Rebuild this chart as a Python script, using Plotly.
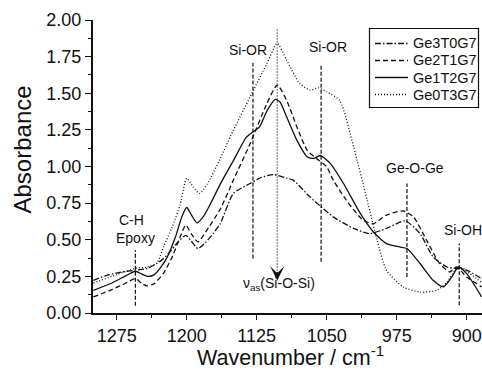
import plotly.graph_objects as go

# ---------------- data ----------------
wn_ge3 = [1300, 1285, 1270, 1255, 1243, 1232, 1225, 1218, 1210, 1201, 1195, 1188, 1180, 1172, 1164,
          1150, 1132, 1120, 1107, 1093, 1086, 1068, 1057, 1043, 1021, 1004, 986, 966, 950, 936,
          921, 911, 900, 884]
ab_ge3 = [0.223, 0.258, 0.280, 0.292, 0.303, 0.338, 0.370, 0.417, 0.480, 0.530, 0.490, 0.440, 0.480, 0.540, 0.610,
          0.816, 0.884, 0.925, 0.945, 0.920, 0.907, 0.793, 0.730, 0.656, 0.577, 0.542, 0.577, 0.629, 0.542, 0.383,
          0.314, 0.303, 0.292, 0.235]

wn_ge2 = [1300, 1280, 1265, 1255, 1248, 1242, 1235, 1225, 1215, 1207, 1201, 1195, 1188, 1180, 1164,
          1150, 1132, 1114, 1103, 1093, 1082, 1071, 1061, 1050, 1043, 1029, 1011, 1000, 986, 968,
          957, 943, 929, 918, 911, 900, 884]
ab_ge2 = [0.110, 0.160, 0.205, 0.235, 0.200, 0.185, 0.200, 0.270, 0.390, 0.520, 0.600, 0.540, 0.485, 0.550, 0.710,
          0.907, 1.157, 1.431, 1.556, 1.453, 1.271, 1.112, 1.055, 0.998, 0.907, 0.770, 0.633, 0.610, 0.668, 0.697,
          0.656, 0.497, 0.338, 0.280, 0.314, 0.246, 0.178]

wn_ge1 = [1300, 1280, 1265, 1255, 1248, 1242, 1235, 1228, 1221, 1212, 1205, 1200, 1195, 1189, 1182,
          1175, 1164, 1150, 1136, 1129, 1122, 1114, 1105, 1100, 1093, 1082, 1071, 1064, 1057, 1046,
          1032, 1014, 1000, 986, 972, 964, 950, 936, 925, 916, 909, 900, 884]
ab_ge1 = [0.155, 0.205, 0.255, 0.285, 0.265, 0.250, 0.260, 0.310, 0.380, 0.520, 0.660, 0.720, 0.670, 0.615, 0.660,
          0.740, 0.880, 1.040, 1.200, 1.237, 1.270, 1.380, 1.458, 1.440, 1.340, 1.180, 1.066, 1.055, 1.075, 1.020,
          0.884, 0.680, 0.553, 0.474, 0.451, 0.440, 0.338, 0.223, 0.178, 0.246, 0.314, 0.269, 0.110]

wn_ge0 = [1300, 1275, 1255, 1243, 1232, 1225, 1216, 1207, 1200, 1193, 1186, 1178, 1164, 1150,
          1132, 1114, 1103, 1093, 1079, 1068, 1059, 1050, 1036, 1021, 1007, 996, 986, 968, 950,
          932, 921, 911, 905, 900, 884]
ab_ge0 = [0.205, 0.262, 0.305, 0.312, 0.340, 0.450, 0.580, 0.740, 0.920, 0.860, 0.816, 0.880, 1.055, 1.248,
          1.476, 1.704, 1.841, 1.727, 1.567, 1.522, 1.537, 1.510, 1.450, 1.130, 0.780, 0.497, 0.292, 0.178, 0.143,
          0.155, 0.212, 0.303, 0.310, 0.285, 0.210]

series_names = ["Ge3T0G7", "Ge2T1G7", "Ge1T2G7", "Ge0T3G7"]

# band markers (dashed vertical lines) : position, bottom, top
band_wn = [1255, 1129, 1056, 964, 908]
band_lo = [0.05, 0.372, 0.349, 0.246, 0.053]
band_hi = [0.43, 1.708, 1.693, 0.884, 0.474]

# asymmetric stretch marker (dotted arrow)
nu_wn = 1103
nu_lo = 0.27
nu_hi = 1.94

labels = [
    ("C-H", 1258.9, 0.633),
    ("Epoxy", 1255.4, 0.51),
    ("Si-OR", 1133.8, 1.795),
    ("Si-OR", 1049.1, 1.818),
    ("Ge-O-Ge", 955.4, 0.987),
    ("Si-OH", 904.0, 0.565),
    ("ν<sub>as</sub>(Si-O-Si)", 1101.0, 0.20),
]

x_ticks = [1275, 1200, 1125, 1050, 975, 900]

# ---------------- figure ----------------
FONT = "'Liberation Sans', Arial, sans-serif"
INK = "#111111"
W, H = 482, 371
ML, MR, MT, MB = 93, 0, 20, 58
PW, PH = W - ML - MR, H - MT - MB


def px_x(px):
    return (px - ML) / PW


def px_y(py):
    return (H - MB - py) / PH


fig = go.Figure()
styles = ["6px,2px,1.5px,2px", "5px,3px", "solid", "1px,2px"]
data = [(wn_ge3, ab_ge3), (wn_ge2, ab_ge2), (wn_ge1, ab_ge1), (wn_ge0, ab_ge0)]
for name, (xs, ys), dsh in zip(series_names, data, styles):
    fig.add_trace(go.Scatter(x=xs, y=ys, mode="lines", name=name, showlegend=False,
                             line=dict(color=INK, width=1.3, dash=dsh, shape="spline", smoothing=0.6)))

for w, lo, hi in zip(band_wn, band_lo, band_hi):
    fig.add_shape(type="line", xref="x", yref="y", x0=w, x1=w, y0=lo, y1=hi,
                  line=dict(color=INK, width=1.2, dash="4px,2px"))

fig.add_shape(type="line", xref="x", yref="y", x0=nu_wn, x1=nu_wn, y0=nu_lo, y1=nu_hi,
              line=dict(color=INK, width=1.2, dash="1px,2px"))
fig.add_annotation(x=nu_wn, y=0.222, xref="x", yref="y", ax=0, ay=-10, showarrow=True,
                   arrowhead=3, arrowsize=2.0, arrowwidth=1.2, arrowcolor=INK, text="")

for txt, x, y in labels:
    fig.add_annotation(x=x, y=y, xref="x", yref="y", text=txt, showarrow=False,
                       xanchor="center", yanchor="middle",
                       font=dict(family=FONT, size=14, color=INK))

# legend box (drawn in paper space)
fig.add_shape(type="rect", xref="paper", yref="paper",
              x0=px_x(369.5), x1=px_x(478.5), y0=px_y(107.5), y1=px_y(28.5),
              line=dict(color=INK, width=1.2), fillcolor="white", layer="above")
row_y = [43.5, 60.5, 77.5, 94.5]
for name, dsh, ry in zip(series_names, styles, row_y):
    fig.add_shape(type="line", xref="paper", yref="paper",
                  x0=px_x(375), x1=px_x(408), y0=px_y(ry), y1=px_y(ry),
                  line=dict(color=INK, width=1.3, dash=dsh), layer="above")
    fig.add_annotation(x=px_x(411), y=px_y(ry), xref="paper", yref="paper", text=name,
                       xanchor="left", yanchor="middle", showarrow=False,
                       font=dict(family=FONT, size=14.5, color=INK))

# axis titles as annotations
fig.add_annotation(x=px_x(22), y=px_y(149.5), xref="paper", yref="paper", text="Absorbance",
                   xanchor="center", yanchor="middle",
                   textangle=-90, showarrow=False, font=dict(family=FONT, size=24, color=INK))
fig.add_annotation(x=px_x(290), y=px_y(356), xref="paper", yref="paper", text="Wavenumber / cm<sup>-1</sup>",
                   xanchor="center", yanchor="middle",
                   showarrow=False, font=dict(family=FONT, size=21.5, color=INK))

fig.update_layout(
    width=W, height=H,
    margin=dict(l=ML, r=MR, t=MT, b=MB),
    paper_bgcolor="white", plot_bgcolor="white",
    font=dict(family=FONT, color=INK),
    showlegend=False,
    xaxis=dict(range=[1300.4, 883.6], autorange=False, tickvals=x_ticks,
               ticks="outside", ticklen=5, tickwidth=1.3, tickcolor=INK,
               showline=True, linewidth=2, linecolor=INK, showgrid=False, zeroline=False,
               tickfont=dict(family=FONT, size=18, color=INK),
               minor=dict(dtick=37.5, tick0=1275, ticks="outside", ticklen=3, tickwidth=1.2, tickcolor=INK)),
    xaxis2=dict(range=[1300.4, 883.6], autorange=False, overlaying="x", side="top",
                tickvals=x_ticks, ticks="inside", ticklen=5, tickwidth=1.3, tickcolor=INK,
                showticklabels=False, showline=True, linewidth=2, linecolor=INK,
                showgrid=False, zeroline=False,
                minor=dict(dtick=37.5, tick0=1275, ticks="inside", ticklen=4, tickwidth=1.2, tickcolor=INK)),
    yaxis=dict(range=[0, 2.0], autorange=False, dtick=0.25, tick0=0, tickformat=".2f",
               ticks="outside", ticklen=6, tickwidth=1.3, tickcolor=INK,
               showline=True, linewidth=2, linecolor=INK, showgrid=False, zeroline=False,
               tickfont=dict(family=FONT, size=18, color=INK),
               minor=dict(dtick=0.125, ticks="outside", ticklen=3, tickwidth=1.2, tickcolor=INK)),
)

fig.write_html("out.html")
